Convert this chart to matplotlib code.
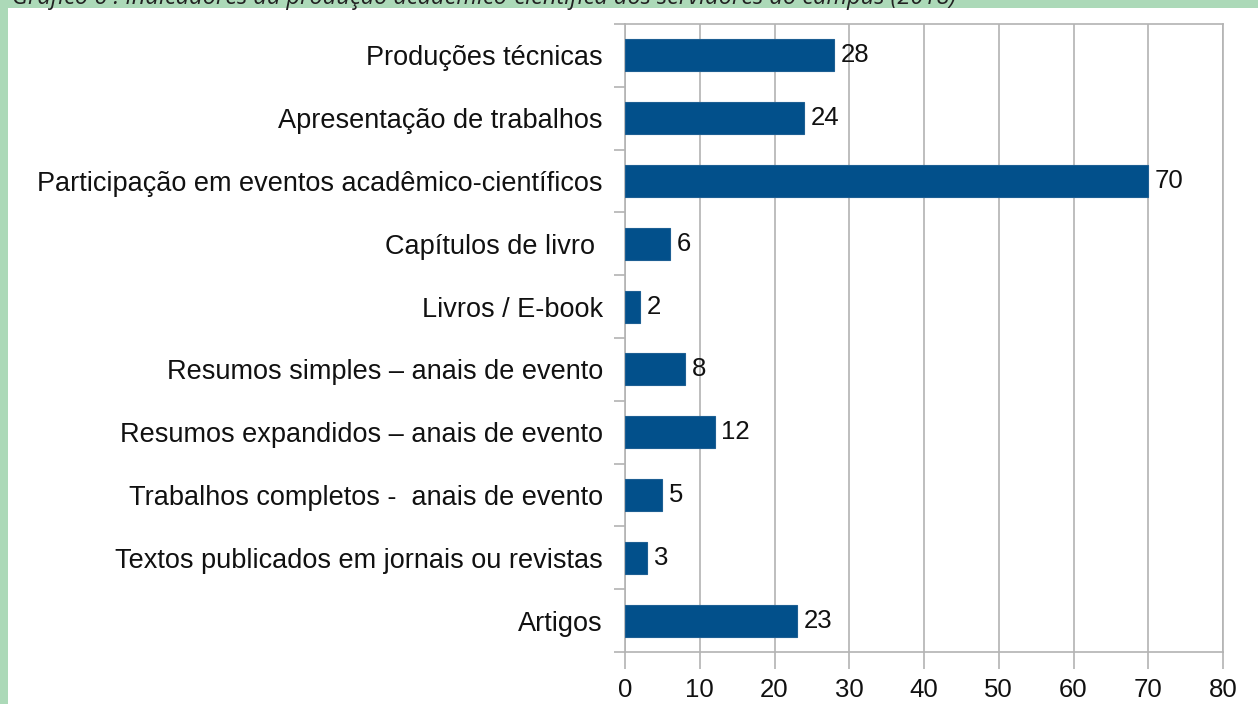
import matplotlib
matplotlib.use("Agg")
import matplotlib.pyplot as plt

categories = [
    "Produções técnicas",
    "Apresentação de trabalhos",
    "Participação em eventos acadêmico-científicos",
    "Capítulos de livro ",
    "Livros / E-book",
    "Resumos simples – anais de evento",
    "Resumos expandidos – anais de evento",
    "Trabalhos completos -  anais de evento",
    "Textos publicados em jornais ou revistas",
    "Artigos",
]
values = [28, 24, 70, 6, 2, 8, 12, 5, 3, 23]
xticks = [0, 10, 20, 30, 40, 50, 60, 70, 80]
title = "Gráfico 6 : Indicadores da produção acadêmico-científica dos servidores do campus (2018)"

W, H = 1258, 704
plt.rcParams["font.family"] = ["Liberation Sans", "DejaVu Sans"]
fig = plt.figure(figsize=(W / 100, H / 100), dpi=100)
fig.patch.set_facecolor("#acd9b8")

# white panel
bg = fig.add_axes([8 / W, 0, 1 - 8 / W, 1 - 8 / H], zorder=-5)
bg.set_facecolor("white")
bg.set_xticks([]); bg.set_yticks([])
for s in bg.spines.values():
    s.set_visible(False)

fig.text(12 / W, 1 - 3.5 / H, title, fontsize=17, style="italic", color="#222222",
         family=["Open Sans", "DejaVu Sans"], ha="left", va="baseline")

x0, x1 = 625, 1223
y0, y1 = 24, 652
ax = fig.add_axes([x0 / W, 1 - y1 / H, (x1 - x0) / W, (y1 - y0) / H])
ax.set_facecolor("none")
n = len(categories)
pos = list(range(n))
ax.barh(pos, values, height=0.51, color="#02508b", edgecolor="#1d5f93", linewidth=0.8, zorder=3)
ax.set_ylim(n - 0.5, -0.5)
ax.set_xlim(0, 80)
ax.set_xticks(xticks)
ax.set_xticklabels([str(t) for t in xticks], fontsize=18.5)
ax.set_yticks(pos)
ax.set_yticklabels(categories, fontsize=19.5)
ax.tick_params(axis="y", length=0, pad=16, labelcolor="#111111")
ax.tick_params(axis="x", length=12, width=1.2, color="#b3b3b3", pad=7, labelcolor="#111111")
# minor ticks at category boundaries
ax.set_yticks([i - 0.5 for i in range(n + 1)], minor=True)
ax.tick_params(axis="y", which="minor", length=8, width=1.2, color="#b3b3b3")
ax.grid(axis="x", color="#b3b3b3", linewidth=1.2, zorder=0)
ax.set_axisbelow(True)
for s in ["top", "right", "left", "bottom"]:
    ax.spines[s].set_color("#b3b3b3")
    ax.spines[s].set_linewidth(1.2)
for i, v in enumerate(values):
    ax.text(v + 0.9, i, str(v), va="center", ha="left", fontsize=18.5, color="#111111", zorder=4)

fig.savefig("out.png", dpi=100)
